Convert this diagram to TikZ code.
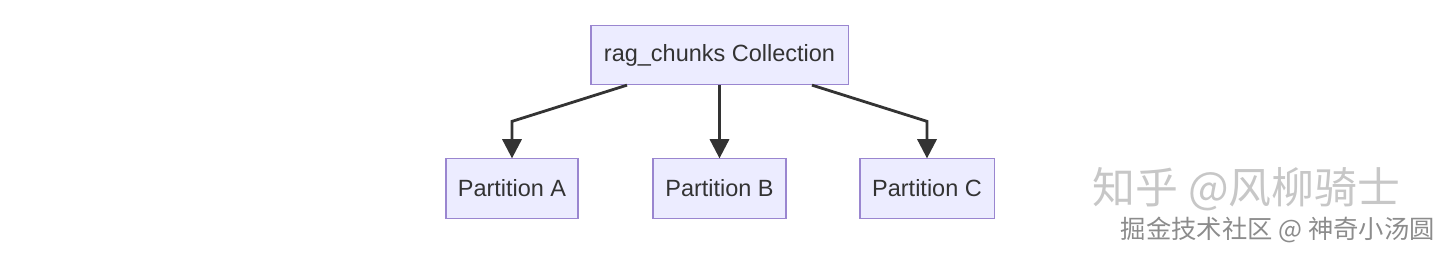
\documentclass[tikz,border=0pt]{standalone}
\usepackage{fontspec}
\setmainfont{Liberation Sans}
\newfontfamily\cjk{Noto Sans CJK SC}
\usetikzlibrary{arrows.meta,calc}
\definecolor{boxfill}{HTML}{ECECFF}
\definecolor{boxline}{HTML}{9A86D0}
\definecolor{ink}{HTML}{333333}

\tikzset{
  box/.style={draw=boxline, fill=boxfill, line width=0.75pt, text=ink,
    font=\fontsize{16.7}{20}\selectfont, inner sep=0pt,
    minimum height=1.48cm},
  link/.style={draw=ink, line width=2pt,
    -{Triangle[length=0.48cm, width=0.48cm]}},
  mark1/.style={text=black!22, font=\cjk\fontsize{30.5}{36}\selectfont},
  mark2/.style={text=black!45, font=\cjk\fontsize{18}{22}\selectfont}
}

\begin{document}
\begin{tikzpicture}[x=0.025cm, y=-0.025cm]
\useasboundingbox (0,0) rectangle (1440,252);
% collection and its partitions
\node[box, minimum width=6.425cm] (coll) at (719.5,55) {rag\_chunks Collection};
\node[box, minimum width=3.3cm] (partA) at (512,188.5) {Partition A};
\node[box, minimum width=3.325cm] (partB) at (719.5,188.5) {Partition B};
\node[box, minimum width=3.35cm] (partC) at (927,188.5) {Partition C};
% connectors
\draw[link] ($(coll.south)+(-92.5,0)$) -- ($(partA.north)+(0,-37)$) -- (partA.north);
\draw[link] (coll.south) -- (partB.north);
\draw[link] ($(coll.south)+(92.5,0)$) -- ($(partC.north)+(0,-37)$) -- (partC.north);
% watermark
\node[mark1, anchor=west] (wm1) at (1088,189) {知乎 @风柳骑士};
\node[mark2, anchor=west] (wm2) at (1116,230) {掘金技术社区 @ 神奇小汤圆};
\end{tikzpicture}
\end{document}
